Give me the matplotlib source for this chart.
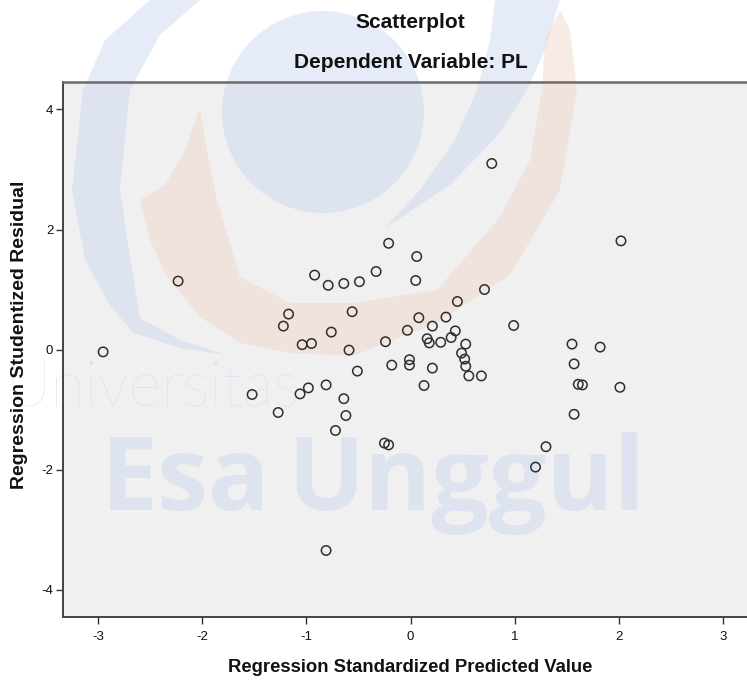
import matplotlib
matplotlib.use("Agg")
import matplotlib.pyplot as plt
from matplotlib.patches import Rectangle, Circle, Polygon

# ---- data ----
pred = [-2.95, -2.23, -1.52, -1.27, -1.22, -1.17, -1.06, -1.04, -0.98, -0.95,
        -0.92, -0.81, -0.81, -0.79, -0.76, -0.72, -0.64, -0.64, -0.62, -0.59,
        -0.56, -0.51, -0.49, -0.33, -0.25, -0.24, -0.21, -0.21, -0.18, -0.03,
        -0.01, -0.01, 0.05, 0.06, 0.08, 0.13, 0.16, 0.18, 0.21, 0.21,
        0.29, 0.34, 0.39, 0.43, 0.45, 0.49, 0.52, 0.53, 0.53, 0.56,
        0.68, 0.71, 0.78, 0.99, 1.20, 1.30, 1.55, 1.57, 1.57, 1.61,
        1.65, 1.82, 2.01, 2.02]
resid = [-0.04, 1.14, -0.75, -1.05, 0.39, 0.59, -0.74, 0.08, -0.64, 0.10,
         1.24, -0.59, -3.35, 1.07, 0.29, -1.35, 1.10, -0.82, -1.10, -0.01,
         0.63, -0.36, 1.13, 1.30, -1.56, 0.13, 1.77, -1.59, -0.26, 0.32,
         -0.17, -0.26, 1.15, 1.55, 0.53, -0.60, 0.18, 0.11, 0.39, -0.31,
         0.12, 0.54, 0.20, 0.31, 0.80, -0.06, -0.16, -0.28, 0.09, -0.44,
         -0.44, 1.00, 3.10, 0.40, -1.96, -1.62, 0.09, -0.24, -1.08, -0.58,
         -0.59, 0.04, -0.63, 1.81]
xticks = [-3, -2, -1, 0, 1, 2, 3]
yticks = [-4, -2, 0, 2, 4]

W, H = 747, 686
fig = plt.figure(figsize=(W / 100, H / 100), dpi=100)
fig.patch.set_facecolor("white")

sans = ["Liberation Sans", "DejaVu Sans"]

# plot-area geometry in pixels
L, T, R, B = 63, 82, 747, 617

# ---- background + watermark layer ----
bg = fig.add_axes([0, 0, 1, 1], zorder=0)
bg.set_xlim(0, W)
bg.set_ylim(H, 0)
bg.axis("off")
bg.add_patch(Rectangle((L, T), R - L, B - T, facecolor="#f0f0f0", edgecolor="none"))

blue = "#c8d6ee"
orange = "#f0d4c6"
a = 0.45
bg.add_patch(Circle((323, 112), 101, facecolor=blue, edgecolor="none", alpha=a))
bg.add_patch(Polygon([(560, 0), (545, 50), (527, 90), (500, 133), (450, 185), (385, 228),
                      (420, 190), (455, 140), (477, 90), (490, 40), (495, 0)],
                     closed=True, facecolor=blue, edgecolor="none", alpha=a))
bg.add_patch(Polygon([(150, 0), (105, 40), (83, 90), (72, 190), (85, 260), (110, 305),
                      (133, 333), (180, 348), (227, 355), (180, 340), (140, 318),
                      (130, 257), (120, 190), (130, 90), (160, 35), (200, 0)],
                     closed=True, facecolor=blue, edgecolor="none", alpha=a))
bg.add_patch(Polygon([(200, 108), (185, 150), (165, 185), (140, 200), (150, 240), (167, 277),
                      (200, 317), (240, 343), (290, 353), (353, 356), (437, 323),
                      (510, 275), (560, 190), (577, 90), (570, 30), (560, 10),
                      (545, 40), (542, 90), (530, 160), (500, 217), (437, 290),
                      (353, 303), (290, 303), (240, 277), (217, 200), (205, 140)],
                     closed=True, facecolor=orange, edgecolor="none", alpha=a))

t1 = bg.text(5, 405, "Universitas", fontsize=42, family=["Lato", "DejaVu Sans"],
             fontweight="light", color=blue, alpha=0.55, ha="left", va="baseline")
t2 = bg.text(270, 510, "Esa", fontsize=90, family=["Open Sans", "DejaVu Sans"],
             fontweight="bold", color=blue, alpha=a, ha="right", va="baseline")
t3 = bg.text(287, 510, "Unggul", fontsize=90, family=["Open Sans", "DejaVu Sans"],
             fontweight="bold", color=blue, alpha=a, ha="left", va="baseline")
fig.canvas.draw()
r = fig.canvas.get_renderer()
w3 = t3.get_window_extent(r).width
fs = 90 * 358 / w3
t3.set_fontsize(fs)
t2.set_fontsize(fs)
w1 = t1.get_window_extent(r).width
t1.set_fontsize(42 * 295 / w1)

# ---- main axes ----
ax = fig.add_axes([L / W, 1 - B / H, (R - L) / W, (B - T) / H], zorder=1)
ax.set_facecolor("none")
x0, sx = 410.5, 104.2
y0, sy = 349.5, 60.0
ax.set_xlim((L - x0) / sx, (R - x0) / sx)
ax.set_ylim((y0 - B) / sy, (y0 - T) / sy)

ax.scatter(pred, resid, s=46, facecolors="none", edgecolors="#2e2e2e",
           linewidths=1.1, zorder=3)

ax.set_xticks(xticks)
ax.set_yticks(yticks)
ax.set_xticklabels([str(v) for v in xticks], family=sans, fontsize=9.5)
ax.set_yticklabels([str(v) for v in yticks], family=sans, fontsize=9.5)
ax.tick_params(direction="out", length=5, width=1.0, color="#333333",
               labelcolor="#111111")
ax.tick_params(axis="x", pad=5)
ax.tick_params(axis="y", pad=2)

for side in ["left", "bottom"]:
    ax.spines[side].set_color("#444444")
    ax.spines[side].set_linewidth(1.4)
ax.spines["top"].set_color("#6a6a6a")
ax.spines["top"].set_linewidth(1.8)
ax.spines["right"].set_visible(False)

# ---- titles and labels ----
cx = x0 / W
fig.text(cx, 1 - 22 / H, "Scatterplot", ha="center", va="center",
         family=sans, fontsize=15, fontweight="bold", color="#111111", zorder=5)
fig.text(cx, 1 - 62 / H, "Dependent Variable: PL", ha="center", va="center",
         family=sans, fontsize=15, fontweight="bold", color="#111111", zorder=5)
fig.text(cx, 1 - 667 / H, "Regression Standardized Predicted Value", ha="center",
         va="center", family=sans, fontsize=13.3, fontweight="bold", color="#111111", zorder=5)
fig.text(20 / W, 1 - 335 / H, "Regression Studentized Residual", ha="center",
         va="center", rotation=90, family=sans,
         fontsize=14, fontweight="bold", color="#111111", zorder=5)

fig.savefig("out.png", dpi=100)
